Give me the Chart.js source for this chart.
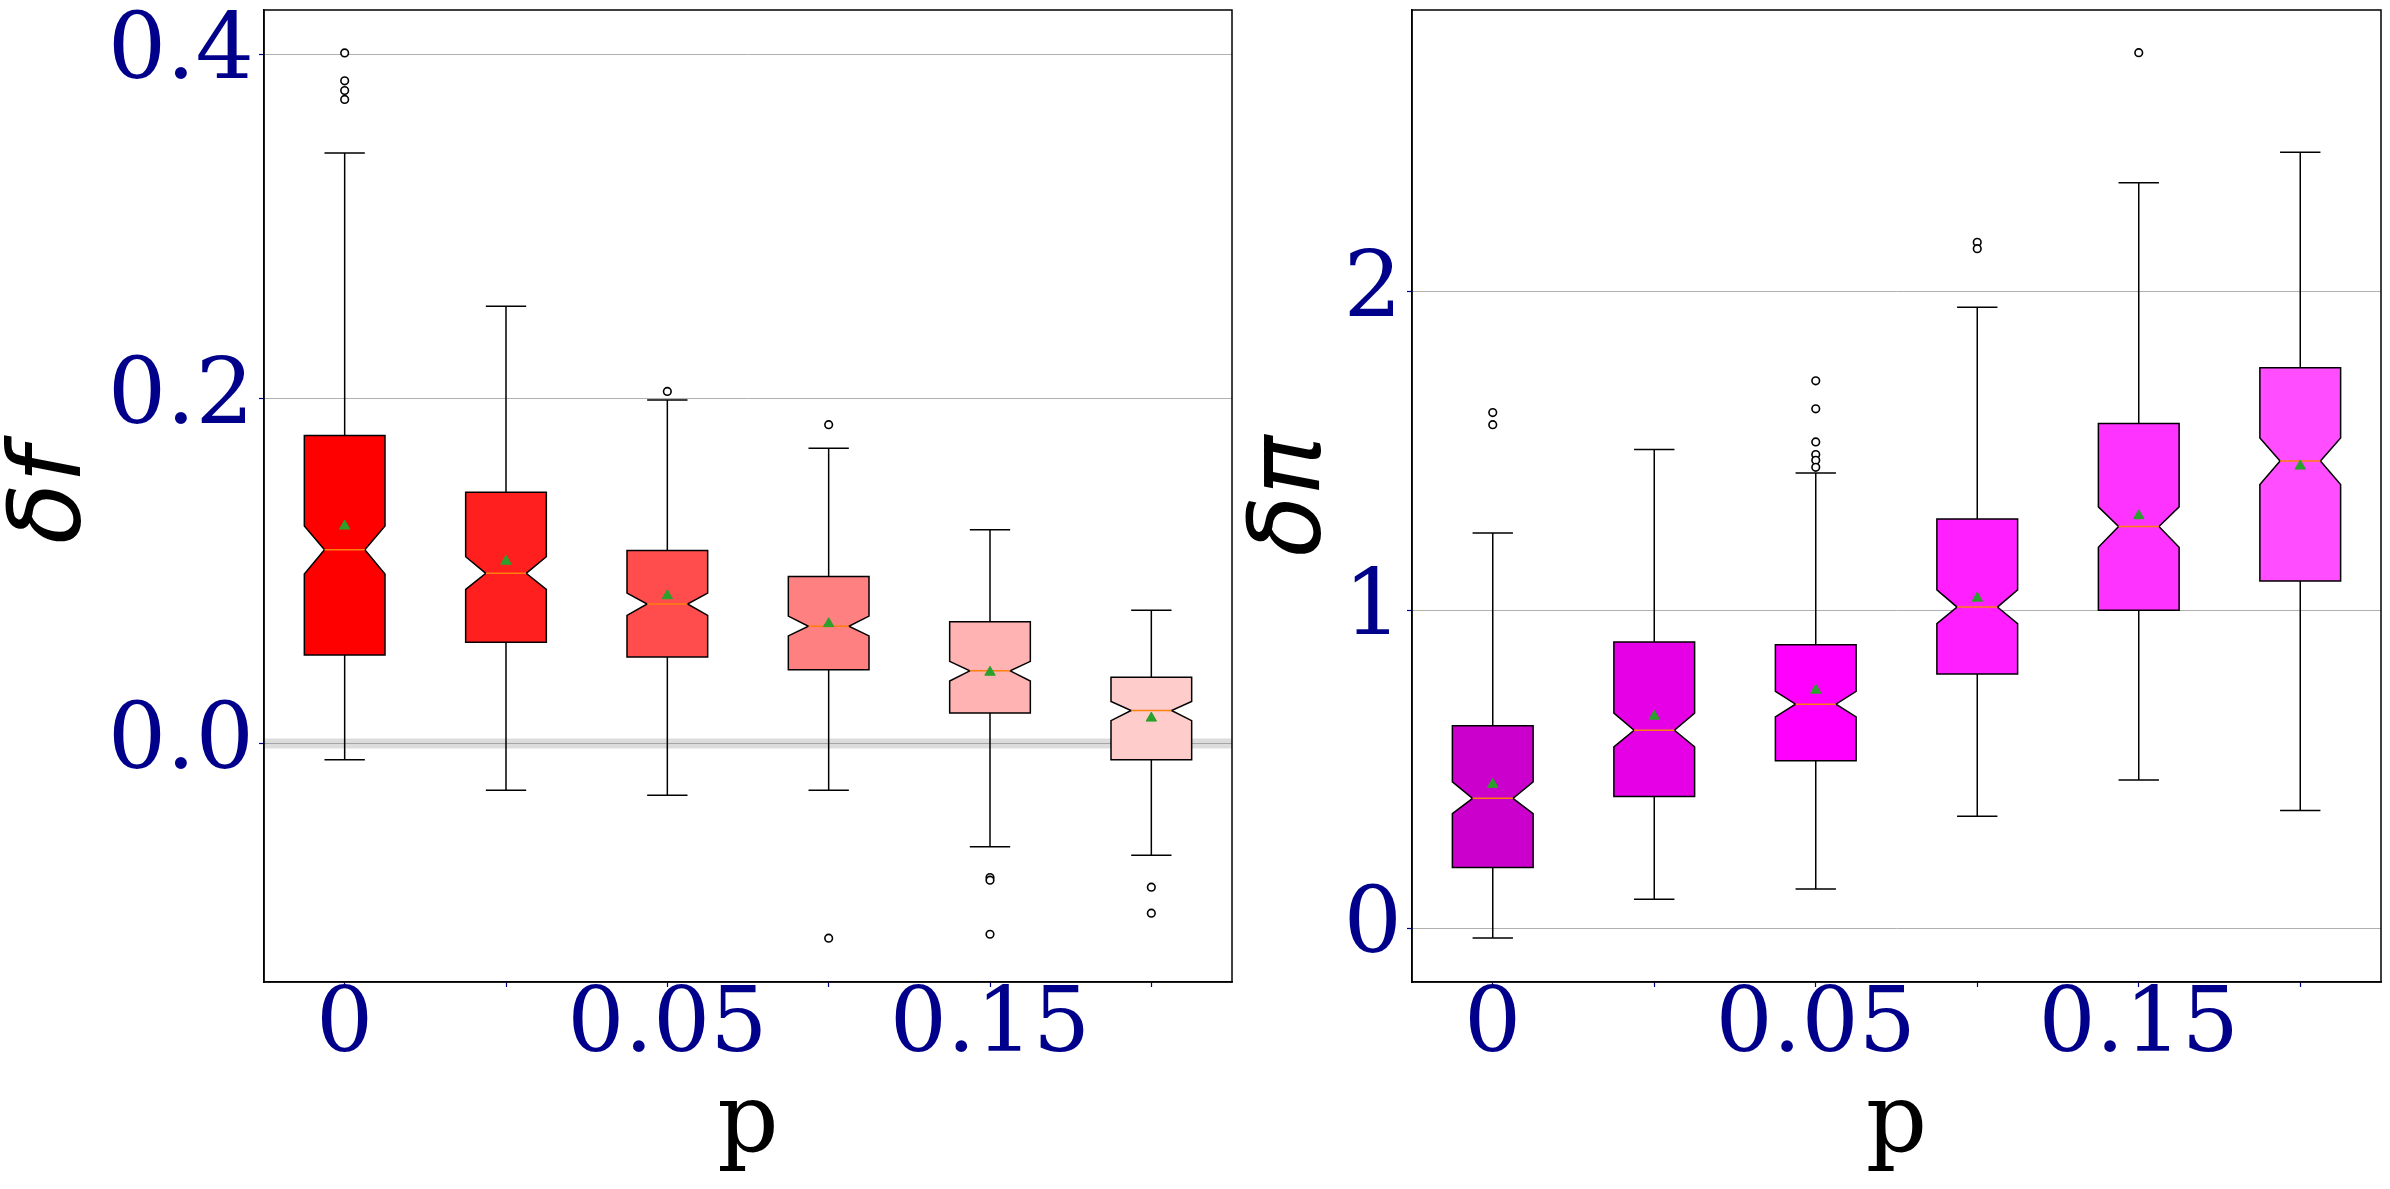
<!DOCTYPE html>
<html>
<head>
<meta charset="utf-8">
<script src="https://cdn.jsdelivr.net/npm/chart.js@4.4.0/dist/chart.umd.min.js"></script>
<style>
  html, body { margin: 0; padding: 0; background: #fff; }
  #wrap { position: relative; width: 2390px; height: 1189px; overflow: hidden; background: #fff; }
  canvas { position: absolute; top: 0; }
  #left { left: 0; }
  #right { left: 1240px; }
</style>
</head>
<body>
<div id="wrap">
  <canvas id="left" width="1240" height="1189"></canvas>
  <canvas id="right" width="1150" height="1189"></canvas>
</div>
<script>
// p categories
const positions = [1, 2, 3, 4, 5, 6];
const xLabels = ['0', '', '0.05', '', '0.15', ''];

// left panel: δf
const fLo = [-0.0093, -0.0270, -0.0300, -0.0270, -0.0599, -0.0648];
const fQ1 = [0.0514, 0.0588, 0.0503, 0.0429, 0.0178, -0.0093];
const fNotchLo = [0.0984, 0.0895, 0.0744, 0.0625, 0.0363, 0.0133];
const fMed = [0.1125, 0.0988, 0.0810, 0.0681, 0.0422, 0.0192];
const fNotchHi = [0.1262, 0.1084, 0.0873, 0.0740, 0.0477, 0.0244];
const fQ3 = [0.1787, 0.1458, 0.1121, 0.0969, 0.0707, 0.0385];
const fHi = [0.3427, 0.2538, 0.1994, 0.1713, 0.1240, 0.0773];
const fMean = [0.1262, 0.1058, 0.0858, 0.0696, 0.0414, 0.0148];
const fOutliers = [
  [0.4007, 0.3845, 0.3789, 0.3737],
  [],
  [0.2043],
  [0.1850, -0.1129],
  [-0.0777, -0.0792, -0.1106],
  [-0.0833, -0.0984],
];
const fColors = ['#ff0000', '#ff1f1f', '#ff4d4d', '#ff8080', '#ffb3b3', '#ffcccc'];
const fTicks = [0, 0.2, 0.4];
const fTickLabels = ['0.0', '0.2', '0.4'];

// right panel: δπ
const piLo = [-0.030, 0.092, 0.124, 0.353, 0.467, 0.371];
const piQ1 = [0.192, 0.415, 0.527, 0.800, 1.000, 1.092];
const piNotchLo = [0.361, 0.571, 0.665, 0.958, 1.198, 1.395];
const piMed = [0.409, 0.623, 0.705, 1.010, 1.263, 1.469];
const piNotchHi = [0.461, 0.677, 0.745, 1.064, 1.325, 1.541];
const piQ3 = [0.637, 0.900, 0.892, 1.287, 1.587, 1.762];
const piHi = [1.2425, 1.505, 1.431, 1.952, 2.343, 2.439];
const piMean = [0.453, 0.667, 0.749, 1.038, 1.297, 1.453];
const piOutliers = [
  [1.621, 1.583],
  [],
  [1.721, 1.633, 1.529, 1.489, 1.471, 1.449],
  [2.156, 2.136],
  [2.752],
  [],
];
const piColors = ['#cc00cc', '#e600e6', '#ff00ff', '#ff1fff', '#ff33ff', '#ff4dff'];
const piTicks = [0, 1, 2];
const piTickLabels = ['0', '1', '2'];

// notched boxes, whiskers and caps, drawn through the chart scales
const notchBox = {
  id: 'notchBox',
  beforeDatasetsDraw(chart, args, opts) {
    const { ctx, chartArea: a, scales: { x, y } } = chart;
    const py = (v) => y.getPixelForValue(v);
    ctx.save();
    ctx.beginPath();
    ctx.rect(a.left, a.top, a.right - a.left, a.bottom - a.top);
    ctx.clip();
    if (opts.band) {
      ctx.strokeStyle = 'rgba(140,140,140,0.3)';
      ctx.lineWidth = 10;
      ctx.beginPath();
      ctx.moveTo(a.left, py(0));
      ctx.lineTo(a.right, py(0));
      ctx.stroke();
    }
    const s = opts.stats;
    const half = x.getPixelForValue(1.25) - x.getPixelForValue(1);
    const cap = half / 2;
    const waist = half / 2;
    positions.forEach((p, i) => {
      const cx = x.getPixelForValue(p);
      ctx.strokeStyle = '#000';
      ctx.lineWidth = 1.5;
      ctx.beginPath();
      ctx.moveTo(cx, py(s.q1[i])); ctx.lineTo(cx, py(s.lo[i]));
      ctx.moveTo(cx, py(s.q3[i])); ctx.lineTo(cx, py(s.hi[i]));
      ctx.moveTo(cx - cap, py(s.lo[i])); ctx.lineTo(cx + cap, py(s.lo[i]));
      ctx.moveTo(cx - cap, py(s.hi[i])); ctx.lineTo(cx + cap, py(s.hi[i]));
      ctx.stroke();

      ctx.beginPath();
      ctx.moveTo(cx - half, py(s.q1[i]));
      ctx.lineTo(cx - half, py(s.nlo[i]));
      ctx.lineTo(cx - waist, py(s.med[i]));
      ctx.lineTo(cx - half, py(s.nhi[i]));
      ctx.lineTo(cx - half, py(s.q3[i]));
      ctx.lineTo(cx + half, py(s.q3[i]));
      ctx.lineTo(cx + half, py(s.nhi[i]));
      ctx.lineTo(cx + waist, py(s.med[i]));
      ctx.lineTo(cx + half, py(s.nlo[i]));
      ctx.lineTo(cx + half, py(s.q1[i]));
      ctx.closePath();
      ctx.fillStyle = opts.colors[i];
      ctx.fill();
      ctx.stroke();

      ctx.strokeStyle = '#ff7f0e';
      ctx.lineWidth = 1.5;
      ctx.beginPath();
      ctx.moveTo(cx - waist, py(s.med[i]));
      ctx.lineTo(cx + waist, py(s.med[i]));
      ctx.stroke();
    });
    ctx.restore();
  },
  afterDraw(chart) {
    const { ctx, chartArea: a } = chart;
    ctx.save();
    ctx.strokeStyle = '#000';
    ctx.lineWidth = 1.5;
    ctx.strokeRect(a.left, a.top, a.right - a.left, a.bottom - a.top);
    ctx.restore();
  },
};

function makePanel(id, cfg) {
  const outlierPts = [];
  cfg.outliers.forEach((list, i) => list.forEach((v) => outlierPts.push({ x: positions[i], y: v })));
  const meanPts = cfg.mean.map((v, i) => ({ x: positions[i], y: v }));
  return new Chart(document.getElementById(id), {
    type: 'scatter',
    data: {
      datasets: [
        {
          data: outlierPts,
          pointStyle: 'circle',
          pointRadius: 3.8,
          backgroundColor: '#fff',
          borderColor: '#000',
          borderWidth: 1.6,
        },
        {
          data: meanPts,
          pointStyle: 'triangle',
          pointRadius: 6,
          backgroundColor: '#2ca02c',
          borderColor: '#2ca02c',
          borderWidth: 1,
        },
      ],
    },
    options: {
      responsive: false,
      animation: false,
      events: [],
      layout: { padding: { top: 10, right: cfg.rightPad, bottom: 0, left: 0 } },
      plugins: {
        legend: { display: false },
        tooltip: { enabled: false },
        notchBox: { stats: cfg.stats, colors: cfg.colors, band: cfg.band },
      },
      scales: {
        x: {
          type: 'linear',
          min: 0.5,
          max: 6.5,
          afterBuildTicks: (s) => { s.ticks = positions.map((v) => ({ value: v })); },
          afterFit: (s) => { s.height = 207; s.paddingLeft = 0; s.paddingRight = 0; },
          grid: { drawOnChartArea: false, drawTicks: true, tickLength: 5, tickColor: '#00008b', tickWidth: 1.2 },
          border: { color: '#000', width: 1.5 },
          ticks: {
            autoSkip: false,
            maxRotation: 0,
            padding: 5,
            color: '#00008b',
            font: { family: 'DejaVu Serif', size: 90, lineHeight: 0.8 },
            callback: (v, idx) => xLabels[idx],
          },
          title: {
            display: true,
            text: 'p',
            color: '#000',
            font: { family: 'DejaVu Serif', size: 96, lineHeight: 1.2 },
            padding: { top: 0, bottom: 5 },
          },
        },
        y: {
          type: 'linear',
          min: cfg.yMin,
          max: cfg.yMax,
          afterBuildTicks: (s) => { s.ticks = cfg.ticks.map((v) => ({ value: v })); },
          afterFit: (s) => { s.width = cfg.yWidth; s.paddingTop = 0; s.paddingBottom = 0; },
          grid: { color: '#b0b0b0', lineWidth: 1, drawTicks: true, tickLength: 5, tickColor: '#00008b', tickWidth: 1.2 },
          border: { color: '#000', width: 1.5 },
          ticks: {
            padding: 5,
            color: '#00008b',
            font: { family: 'DejaVu Serif', size: 92 },
            callback: (v, idx) => cfg.tickLabels[idx],
          },
          title: {
            display: true,
            text: cfg.title,
            color: '#000',
            font: { family: 'DejaVu Sans', size: 100, style: 'italic', lineHeight: 1 },
            padding: { top: 4, bottom: 0 },
          },
        },
      },
    },
    plugins: [notchBox],
  });
}

makePanel('left', {
  stats: { lo: fLo, q1: fQ1, nlo: fNotchLo, med: fMed, nhi: fNotchHi, q3: fQ3, hi: fHi },
  mean: fMean,
  outliers: fOutliers,
  colors: fColors,
  ticks: fTicks,
  tickLabels: fTickLabels,
  yMin: -0.1383,
  yMax: 0.4256,
  title: 'δf',
  yWidth: 264,
  rightPad: 8,
  band: true,
});

makePanel('right', {
  stats: { lo: piLo, q1: piQ1, nlo: piNotchLo, med: piMed, nhi: piNotchHi, q3: piQ3, hi: piHi },
  mean: piMean,
  outliers: piOutliers,
  colors: piColors,
  ticks: piTicks,
  tickLabels: piTickLabels,
  yMin: -0.168,
  yMax: 2.886,
  title: 'δπ',
  yWidth: 172,
  rightPad: 9,
  band: false,
});
</script>
</body>
</html>
